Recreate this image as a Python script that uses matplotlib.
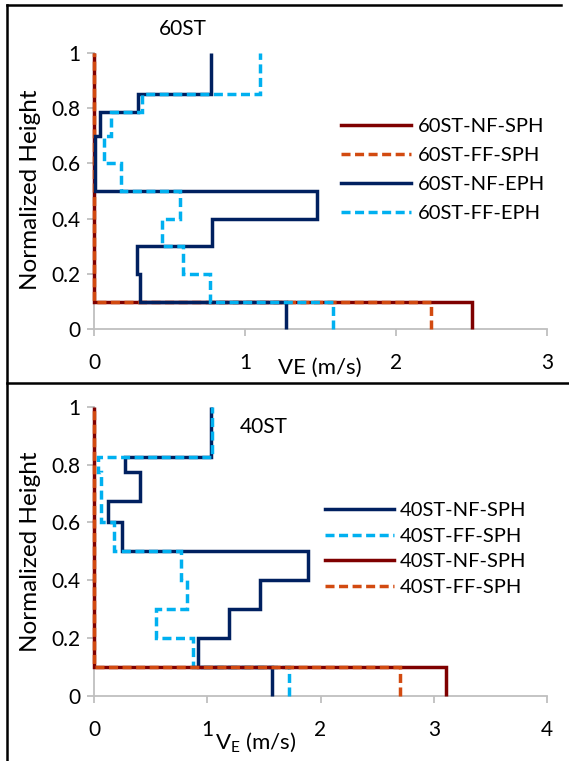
import matplotlib
matplotlib.use("Agg")
import matplotlib.pyplot as plt
from matplotlib.lines import Line2D

plt.rcParams["font.family"] = ["Lato", "DejaVu Sans"]
plt.rcParams["mathtext.fontset"] = "custom"
plt.rcParams["mathtext.rm"] = "Lato"

# ---------------------------------------------------------- data
# story boundaries (normalized height) and velocity per segment, bottom -> top
heights_60 = [0.0, 0.1, 0.2, 0.3, 0.4, 0.5, 0.6, 0.7, 0.785, 0.85, 1.0]
ve_60_nf_sph = [2.50, 0, 0, 0, 0, 0, 0, 0, 0, 0]
ve_60_ff_sph = [2.23, 0, 0, 0, 0, 0, 0, 0, 0, 0]
ve_60_nf_eph = [1.27, 0.307, 0.285, 0.784, 1.477, 0.006, 0.006, 0.042, 0.291, 0.773]
ve_60_ff_eph = [1.58, 0.766, 0.589, 0.453, 0.567, 0.179, 0.064, 0.115, 0.318, 1.097]
labels_60 = ["60ST-NF-SPH", "60ST-FF-SPH", "60ST-NF-EPH", "60ST-FF-EPH"]

heights_40 = [0.0, 0.1, 0.2, 0.3, 0.4, 0.5, 0.6, 0.675, 0.775, 0.825, 1.0]
ve_40_nf_navy = [1.57, 0.914, 1.188, 1.462, 1.886, 0.243, 0.128, 0.407, 0.273, 1.03]
ve_40_ff_blue = [1.725, 0.874, 0.545, 0.825, 0.77, 0.175, 0.065, 0.065, 0.035, 1.044]
ve_40_nf_red = [3.11, 0, 0, 0, 0, 0, 0, 0, 0, 0]
ve_40_ff_orange = [2.705, 0, 0, 0, 0, 0, 0, 0, 0, 0]
labels_40 = ["40ST-NF-SPH", "40ST-FF-SPH", "40ST-NF-SPH", "40ST-FF-SPH"]

DARKRED = "#7f0000"
ORANGE = "#d24a10"
NAVY = "#002060"
LBLUE = "#00b0f0"
GRID = "#bfbfbf"
DASH = (0, (2.6, 1.3))
LW = 2.5
FS_TICK = 15
FS_LEG = 14.5
FS_YLAB = 17.5
FS_XLAB = 16

W, H = 569, 761
fig = plt.figure(figsize=(W / 100, H / 100), dpi=100)


def _axes(px_left, px_right, px_top, px_bottom):
    return fig.add_axes([px_left / W, 1 - px_bottom / H,
                         (px_right - px_left) / W, (px_bottom - px_top) / H])


def _style(ax, xmax, xpad):
    ax.set_xlim(0, xmax)
    ax.set_ylim(0, 1)
    ax.set_xticks(range(xmax + 1))
    ax.set_yticks([0, 0.2, 0.4, 0.6, 0.8, 1])
    ax.set_yticklabels(["0", "0.2", "0.4", "0.6", "0.8", "1"])
    for s in ("top", "right"):
        ax.spines[s].set_visible(False)
    for s in ("left", "bottom"):
        ax.spines[s].set_color(GRID)
        ax.spines[s].set_linewidth(1.3)
    ax.tick_params(axis="both", direction="out", length=5, width=1.3,
                   color=GRID, labelsize=FS_TICK)
    ax.tick_params(axis="x", pad=xpad)
    ax.tick_params(axis="y", pad=5)
    ax.set_ylabel("Normalized Height", fontsize=FS_YLAB)


def _steps(ax, vals, edges, color, ls, label):
    ax.stairs(vals, edges, orientation="horizontal", baseline=None,
              color=color, lw=LW, linestyle=ls, label=label, clip_on=False,
              zorder=3)


# ---------------------------------------------------------- 60ST
ax = _axes(94, 547, 52.7, 329.3)
_style(ax, 3, 12)
_steps(ax, ve_60_nf_sph, heights_60, DARKRED, "-", labels_60[0])
_steps(ax, ve_60_ff_sph, heights_60, ORANGE, DASH, labels_60[1])
_steps(ax, ve_60_nf_eph, heights_60, NAVY, "-", labels_60[2])
_steps(ax, ve_60_ff_eph, heights_60, LBLUE, DASH, labels_60[3])
ax.set_xlabel("VE (m/s)", fontsize=FS_XLAB)
ax.xaxis.set_label_coords(0.499, -0.105)
ax.yaxis.set_label_coords(-0.118, 0.504)
ax.text(0.196, 1.085, "60ST", transform=ax.transAxes, fontsize=FS_TICK,
        ha="center", va="center")
ax.legend(loc="upper left", bbox_to_anchor=(0.545, 0.765), frameon=False,
          fontsize=FS_LEG, handlelength=3.5, handletextpad=0.3, labelspacing=0.6,
          borderpad=0, borderaxespad=0)

# ---------------------------------------------------------- 40ST
ax = _axes(94, 547, 406.7, 696)
_style(ax, 4, 12)
_steps(ax, ve_40_nf_navy, heights_40, NAVY, "-", labels_40[0])
_steps(ax, ve_40_ff_blue, heights_40, LBLUE, DASH, labels_40[1])
_steps(ax, ve_40_nf_red, heights_40, DARKRED, "-", labels_40[2])
_steps(ax, ve_40_ff_orange, heights_40, ORANGE, DASH, labels_40[3])
ax.set_xlabel(r"V$_\mathregular{E}$ (m/s)", fontsize=FS_XLAB)
ax.xaxis.set_label_coords(0.358, -0.122)
ax.yaxis.set_label_coords(-0.118, 0.5)
ax.text(0.374, 0.93, "40ST", transform=ax.transAxes, fontsize=FS_TICK,
        ha="center", va="center")
ax.legend(loc="upper left", bbox_to_anchor=(0.51, 0.67), frameon=False,
          fontsize=FS_LEG, handlelength=3.4, handletextpad=0.3, labelspacing=0.42,
          borderpad=0, borderaxespad=0)

# ---------------------------------------------------------- chart frames
for xs, ys in [((7, 561), (5, 5)), ((7, 569), (383, 383)), ((7, 7), (5, 761))]:
    fig.add_artist(Line2D([x / W for x in xs], [1 - y / H for y in ys],
                          color="black", lw=1.8, transform=fig.transFigure))

fig.savefig("out.png", dpi=100)
